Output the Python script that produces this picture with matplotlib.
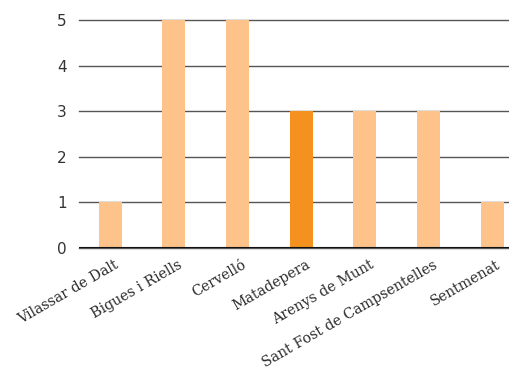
import matplotlib
matplotlib.use("Agg")
import matplotlib.pyplot as plt
import matplotlib.transforms as mtransforms

municipis = ["Vilassar de Dalt", "Bigues i Riells", "Cervelló", "Matadepera",
             "Arenys de Munt", "Sant Fost de Campsentelles", "Sentmenat"]
valors = [1, 5, 5, 3, 3, 3, 1]
destacat = "Matadepera"

light = "#FDC38A"
dark = "#F5911E"
colors = [dark if m == destacat else light for m in municipis]

fig = plt.figure(figsize=(5.1, 3.72), dpi=100)
ax = fig.add_axes([79 / 510, 1 - 248 / 372, 1 - 79 / 510, (248 - 20) / 372])

x = range(len(municipis))
ax.bar(x, valors, width=0.36, color=colors, zorder=3)

ax.set_ylim(0, 5)
ax.set_xlim(-0.49, 6.28)
ax.set_yticks(range(6))
ax.yaxis.grid(True, color="#555555", linewidth=1.0, zorder=0)
ax.axhline(0, color="#111111", linewidth=1.5, zorder=4)
for s in ax.spines.values():
    s.set_visible(False)
ax.tick_params(axis="y", length=0, pad=9, labelsize=11, labelcolor="#333333")
ax.tick_params(axis="x", length=0, pad=7)

ax.set_xticks(list(x))
ax.set_xticklabels(municipis, rotation=30, ha="right", rotation_mode="anchor",
                   family="DejaVu Serif", fontsize=10.2, color="#2a2a2a")
offset = mtransforms.ScaledTranslation(4 / 100, 0, fig.dpi_scale_trans)
for lab in ax.get_xticklabels():
    lab.set_transform(lab.get_transform() + offset)
for g in ax.get_ygridlines():
    g.set_clip_on(False)

fig.savefig("out.png", dpi=100)
